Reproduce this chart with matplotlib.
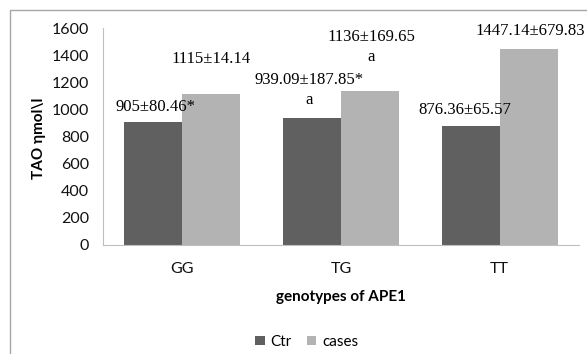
import numpy as np
import matplotlib.pyplot as plt
from matplotlib.patches import Rectangle

# data
genotypes = ['GG', 'TG', 'TT']
ctr = [905, 939.09, 876.36]
cases = [1115, 1136, 1447.14]
ctr_labels = ['905±80.46*', '939.09±187.85*\na', '876.36±65.57']
cases_labels = ['1115±14.14', '1136±169.65\na', '1447.14±679.83']
yticks = [0, 200, 400, 600, 800, 1000, 1200, 1400, 1600]

W, H = 587, 354
fig = plt.figure(figsize=(W / 100, H / 100), dpi=100)

# outer chart-area border (right/bottom run off the picture)
fig.patches.append(Rectangle((10 / W, -0.1), 1.2, (H - 10) / H + 0.1,
                             transform=fig.transFigure, fill=False,
                             edgecolor='#a6a6a6', lw=1.0))

ax = fig.add_axes([103 / W, (H - 245) / H, (579 - 103) / W, (245 - 28) / H])

x = np.arange(len(genotypes))
bw = 0.365
ax.bar(x - bw / 2, ctr, bw, color='#606060', label='Ctr')
ax.bar(x + bw / 2, cases, bw, color='#b3b3b3', label='cases')

ax.set_xlim(-0.5, 2.5)
ax.set_ylim(0, 1600)
ax.set_yticks(yticks)
ax.set_xticks(x)
ax.set_xticklabels(genotypes)

for s in ['top', 'right']:
    ax.spines[s].set_visible(False)
ax.spines['left'].set_color('#bfbfbf')
ax.spines['bottom'].set_color('#bfbfbf')
ax.tick_params(length=0, labelsize=11.5, colors='#111111')
ax.tick_params(axis='y', pad=10)
ax.tick_params(axis='x', pad=12)
for t in ax.get_xticklabels() + ax.get_yticklabels():
    t.set_fontfamily('Lato')

ax.set_xlabel('genotypes of APE1', fontsize=11, fontweight='bold',
              family='Lato', labelpad=10)
ax.set_ylabel('TAO ηmol\\l', fontsize=11, fontweight='bold',
              family='Lato')
ax.yaxis.set_label_coords(-0.12, 0.49)

# value annotations
ctr_pos = [(-0.17, 1018), (0.80, 1140), (1.78, 996)]
cases_pos = [(0.18, 1372), (1.19, 1460), (2.19, 1578)]
for (px, py), s in zip(ctr_pos, ctr_labels):
    ax.text(px, py, s, ha='center', va='center', fontsize=12,
            family='Liberation Serif', linespacing=1.35)
for (px, py), s in zip(cases_pos, cases_labels):
    ax.text(px, py, s, ha='center', va='center', fontsize=12,
            family='Liberation Serif', linespacing=1.35, clip_on=False)

leg = fig.legend(loc='center', bbox_to_anchor=(307 / W, (H - 342) / H),
                 ncol=2, frameon=False, handlelength=0.6, handleheight=0.6,
                 handletextpad=0.4, columnspacing=1.0,
                 prop={'family': 'Lato', 'size': 11})

fig.savefig('out.png', dpi=100)
